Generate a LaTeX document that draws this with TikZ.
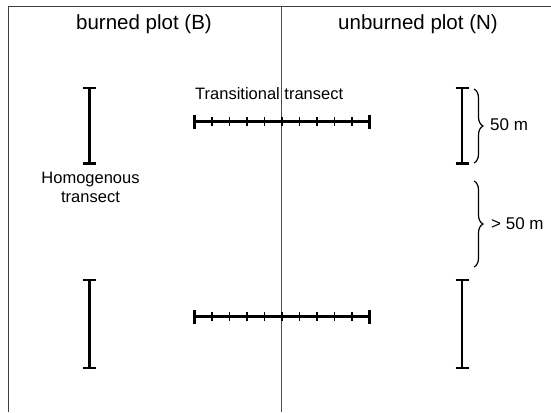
\documentclass[tikz,border=0pt]{standalone}
\usepackage{fontspec}
\setmainfont{Liberation Sans}
\usetikzlibrary{decorations.pathreplacing}
\newcommand\vtrans[3]{%
  \draw[barline] (#1,#2) -- (#1,#3);
  \draw[capline] (#1-6.5,#2) -- (#1+6.5,#2) (#1-6.5,#3) -- (#1+6.5,#3);}
\newcommand\htrans[1]{%
  \draw[barline] (194.5,#1) -- (369.5,#1);
  \draw[capline] (194.5,#1-7) -- (194.5,#1+7) (369.5,#1-7) -- (369.5,#1+7);
  \foreach \i in {1,...,9} \draw[tickline] (194.5+\i*17.5,#1-4.5) -- (194.5+\i*17.5,#1+4.5);}
\begin{document}
\begin{tikzpicture}[x=1pt,y=-1pt,
  frame/.style={draw=black!75, line width=1.5pt},
  midline/.style={draw=black!70, line width=1pt},
  barline/.style={draw=black, line width=2.6pt},
  capline/.style={draw=black, line width=2.2pt},
  tickline/.style={draw=black, line width=1.8pt},
  brc/.style={draw=black, line width=1.2pt, decorate, decoration={brace, amplitude=9pt}},
  head/.style={font=\fontsize{20.5}{24}\selectfont, inner sep=0pt},
  lab/.style={font=\fontsize{16.5}{18.7}\selectfont, inner sep=0pt},
  blab/.style={font=\fontsize{17}{20}\selectfont, inner sep=0pt, anchor=west}]
\useasboundingbox (0,0) rectangle (551,412);
\draw[frame] (8.3,412) -- (8.3,6.5) -- (551,6.5);
\draw[midline] (281.7,6.5) -- (281.7,412);
\node[head] (burned) at (144,24.5) {burned plot (B)};
\node[head] (unburned) at (418,24.5) {unburned plot (N)};
\vtrans{89.6}{88}{163.5}
\vtrans{462}{88}{163.5}
\vtrans{89.6}{280}{368}
\vtrans{462}{280}{368}
\htrans{121.5}
\htrans{316.7}
\node[lab, anchor=west] (trans) at (195,94) {Transitional transect};
\node[lab, align=center] (homog) at (90.5,187.5) {Homogenous\\transect};
\draw[brc] (474,89) -- (474,163);
\node[blab] (fifty) at (490,125) {50 m};
\draw[brc] (474,181) -- (474,267);
\node[blab] (more) at (491,224) {> 50 m};
\end{tikzpicture}
\end{document}
